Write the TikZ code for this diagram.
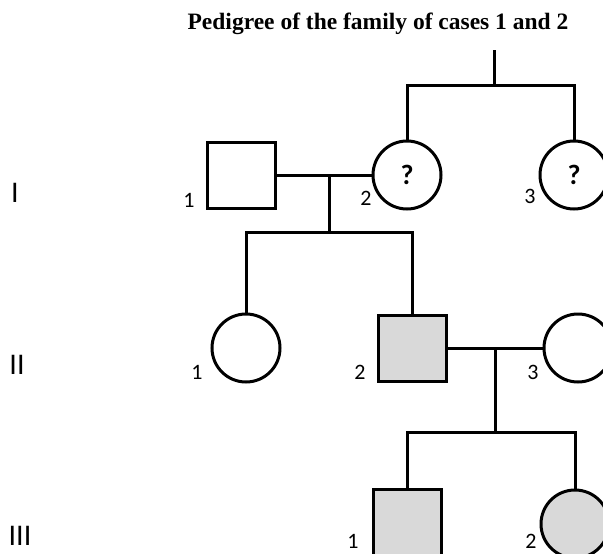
\documentclass[tikz,border=0pt]{standalone}
\usepackage{fontspec}
\setmainfont{Carlito}
\newfontfamily\titlefont{Liberation Serif}
\usetikzlibrary{positioning}

\begin{document}
\begin{tikzpicture}[
x=1pt, y=-1pt,
line width=3pt,
male/.style={draw, rectangle, minimum width=68pt, minimum height=66pt, inner sep=0pt},
female/.style={draw, circle, minimum size=68pt, inner sep=0pt},
affected/.style={fill=gray!30},
unknown/.style={font=\bfseries\fontsize{28}{28}\selectfont},
num/.style={font=\fontsize{22}{22}\selectfont, inner sep=0pt},
gen/.style={font=\fontsize{30}{30}\selectfont, inner sep=0pt}
]

\fill[white] (0,0) rectangle (603,554);
\useasboundingbox (0,0) rectangle (603,554);
\clip (0,0) rectangle (603,554);

% ---------- TITLE ----------

\node[font=\titlefont\bfseries\fontsize{23.5}{23.5}\selectfont] (title) at (378,24)
{Pedigree of the family of cases 1 and 2};

% ---------- GENERATIONS ----------

\node[gen] (gI) at (15,193) {I};
\node[gen] (gII) at (17,365) {II};
\node[gen] (gIII) at (20,536) {III};

% ---------- GENERATION I ----------

\node[male] (i1) at (241,175) {};
\node[female, unknown] (i2) at (407,175) {?};
\node[female, unknown] (i3) at (574,175) {?};

\node[num] (n-i1) at (189,200) {1};
\node[num] (n-i2) at (366,198) {2};
\node[num] (n-i3) at (530,196) {3};

% ---------- GENERATION II ----------

\node[female] (ii1) at (246,348) {};
\node[male, affected] (ii2) at (412,348) {};
\node[female] (ii3) at (578,348) {};

\node[num] (n-ii1) at (197,372) {1};
\node[num] (n-ii2) at (360,372) {2};
\node[num] (n-ii3) at (533,372) {3};

% ---------- GENERATION III ----------

\node[male, affected] (iii1) at (407,522) {};
\node[female, affected] (iii2) at (575,524) {};

\node[num] (n-iii1) at (353,541) {1};
\node[num] (n-iii2) at (531,541) {2};

% ---------- LINES ----------

\coordinate (top) at (494,50);
\coordinate (topbar) at (494,85);
\coordinate (m1) at (329,174);
\coordinate (s1) at (329,232);
\coordinate (m2) at (495,349);
\coordinate (s2) at (495,432);

\draw (top) -- (topbar);
\draw (i2.north) |- (topbar) -| (i3.north);

\draw (i1.east) -- (i2.west);
\draw (m1) -- (s1);
\draw (ii1.north) |- (s1) -| (ii2.north);

\draw (ii2.east) -- (ii3.west);
\draw (m2) -- (s2);
\draw (iii1.north) |- (s2) -| (iii2.north);

\end{tikzpicture}
\end{document}
